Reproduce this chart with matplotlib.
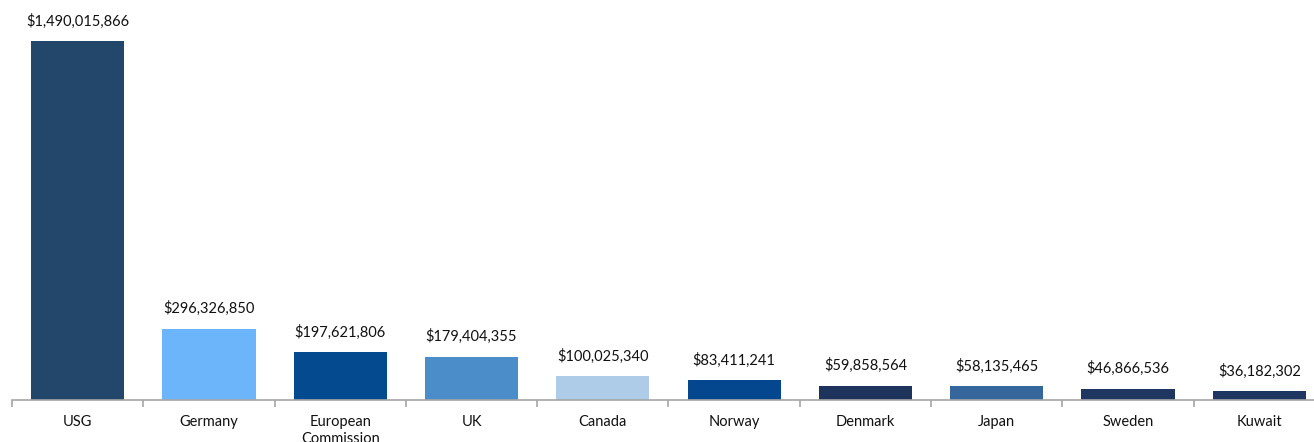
import matplotlib
matplotlib.use("Agg")
import matplotlib.pyplot as plt
import numpy as np

donors = ["USG", "Germany", "European\nCommission", "UK", "Canada",
          "Norway", "Denmark", "Japan", "Sweden", "Kuwait"]
amounts = [1490015866, 296326850, 197621806, 179404355, 100025340,
           83411241, 59858564, 58135465, 46866536, 36182302]
colors = ["#22476B", "#6CB5FA", "#034A8E", "#4A8DC9", "#AECBE8",
          "#05478F", "#1E335C", "#35679C", "#1F3660", "#1F3660"]

plt.rcParams['font.family'] = ['Lato', 'DejaVu Sans']

W, H = 1314, 442
fig = plt.figure(figsize=(W / 100, H / 100), dpi=100)
# axis spans from x=12 and runs past the right edge of the image
ax = fig.add_axes([12 / W, (H - 400) / H, 1313 / W, 380 / H])

x = np.arange(len(donors))
ax.bar(x, amounts, width=0.71, color=colors)
ax.set_xlim(-0.5, len(donors) - 0.5)
ax.set_ylim(0, 1490015866 * 380 / 359)

for xi, v in zip(x, amounts):
    ax.annotate("${:,}".format(v), (xi, v), xytext=(0, 9),
                textcoords="offset points", ha="center", va="bottom",
                fontsize=10.5, color="#111111")

for s in ["top", "right", "left"]:
    ax.spines[s].set_visible(False)
ax.spines["bottom"].set_color("#A6A6A6")
ax.spines["bottom"].set_linewidth(1.2)
ax.set_yticks([])

ax.set_xticks(x)
ax.set_xticklabels(donors, fontsize=10.5, color="#111111", linespacing=1.25)
ax.tick_params(axis="x", which="major", length=0, pad=11)
ax.set_xticks(np.arange(-0.5, len(donors)), minor=True)
ax.tick_params(axis="x", which="minor", length=5, width=1.2,
               color="#A6A6A6", direction="out")

fig.savefig("out.png", dpi=100)
